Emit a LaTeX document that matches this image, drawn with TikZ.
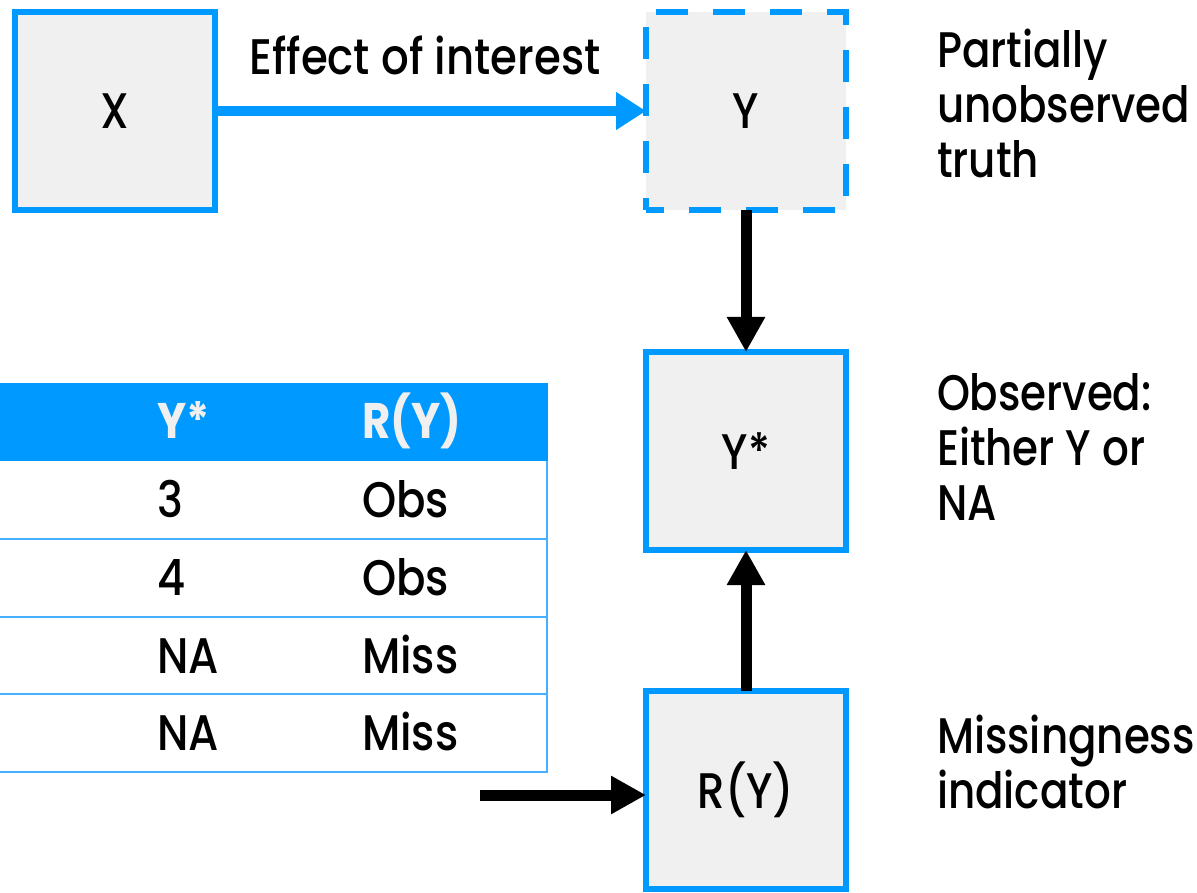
\documentclass[tikz,border=0pt]{standalone}
\usepackage{fontspec}
\setmainfont[FakeStretch=0.87]{Poppins Medium}
\newfontfamily\notefont[FakeStretch=0.84]{Poppins Medium}
\newfontfamily\headfont[FakeStretch=0.87]{Poppins Bold}
\usetikzlibrary{arrows.meta}

\definecolor{brandblue}{RGB}{0,153,255}
\definecolor{boxfill}{RGB}{240,240,240}
\definecolor{rulecol}{RGB}{70,175,255}
\definecolor{headtext}{RGB}{240,240,240}

\begin{document}
\begin{tikzpicture}[x=1pt,y=-1pt,
  every node/.style={font=\fontsize{50}{55}\selectfont, inner sep=0pt, outer sep=0pt},
  varbox/.style={draw=brandblue, fill=boxfill, line width=6.5pt,
    minimum width=200pt, minimum height=198pt, text height=36pt, text depth=0pt},
  latent/.style={varbox, dash pattern=on 32pt off 25pt, dash phase=14pt},
  blueflow/.style={draw=brandblue, line width=10pt, -{Triangle[length=30pt,width=36pt]}},
  flow/.style={draw=black, line width=11pt, -{Triangle[length=35pt,width=36pt]}},
  note/.style={anchor=base west, align=left, font=\notefont\fontsize{50}{55}\selectfont},
  cell/.style={anchor=base west},
  headcell/.style={anchor=base west, text=headtext, font=\headfont\fontsize{50}{55}\selectfont},
  tablerule/.style={draw=rulecol, line width=2pt}
]
\useasboundingbox (0,0) rectangle (1197,893);

% --- data table (cut off at the left edge) ---
\fill[brandblue] (0,383) rectangle (548,461);
\foreach \yy in {539,617,694,772}
  \draw[tablerule] (0,\yy) -- (547,\yy);
\draw[tablerule] (547,461) -- (547,773);
\node[headcell] (hY) at (157,438) {Y*};
\node[headcell] (hR) at (362,438) {R(Y)};
\node[cell] (a1) at (157,517) {3};
\node[cell] (b1) at (362,517) {Obs};
\node[cell] (a2) at (157,595) {4};
\node[cell] (b2) at (362,595) {Obs};
\node[cell] (a3) at (157,673) {NA};
\node[cell] (b3) at (362,673) {Miss};
\node[cell] (a4) at (157,750) {NA};
\node[cell] (b4) at (362,750) {Miss};

% --- variable boxes ---
\node[varbox] (X) at (115,111) {X};
\node[latent] (Y) at (746,111) {Y};
\node[varbox] (Ys) at (746,451) {Y*};
\node[varbox] (R) at (746,790) {R(Y)};

% --- connectors ---
\coordinate (src) at (480,795);
\draw[blueflow] (X.east) -- (Y.west);
\node[anchor=base] (eff) at (425,75) {Effect of interest};
\draw[flow] (Y.south) -- (Ys.north);
\draw[flow] (R.north) -- (Ys.south);
\draw[flow] (src) -- (src -| R.west);

% --- annotations (anchored at the baseline of the last line) ---
\node[note] (n1) at (937,178) {Partially\\unobserved\\truth};
\node[note] (n2) at (937,520) {Observed:\\Either Y or\\NA};
\node[note] (n3) at (937,808) {Missingness\\indicator};
\end{tikzpicture}
\end{document}
